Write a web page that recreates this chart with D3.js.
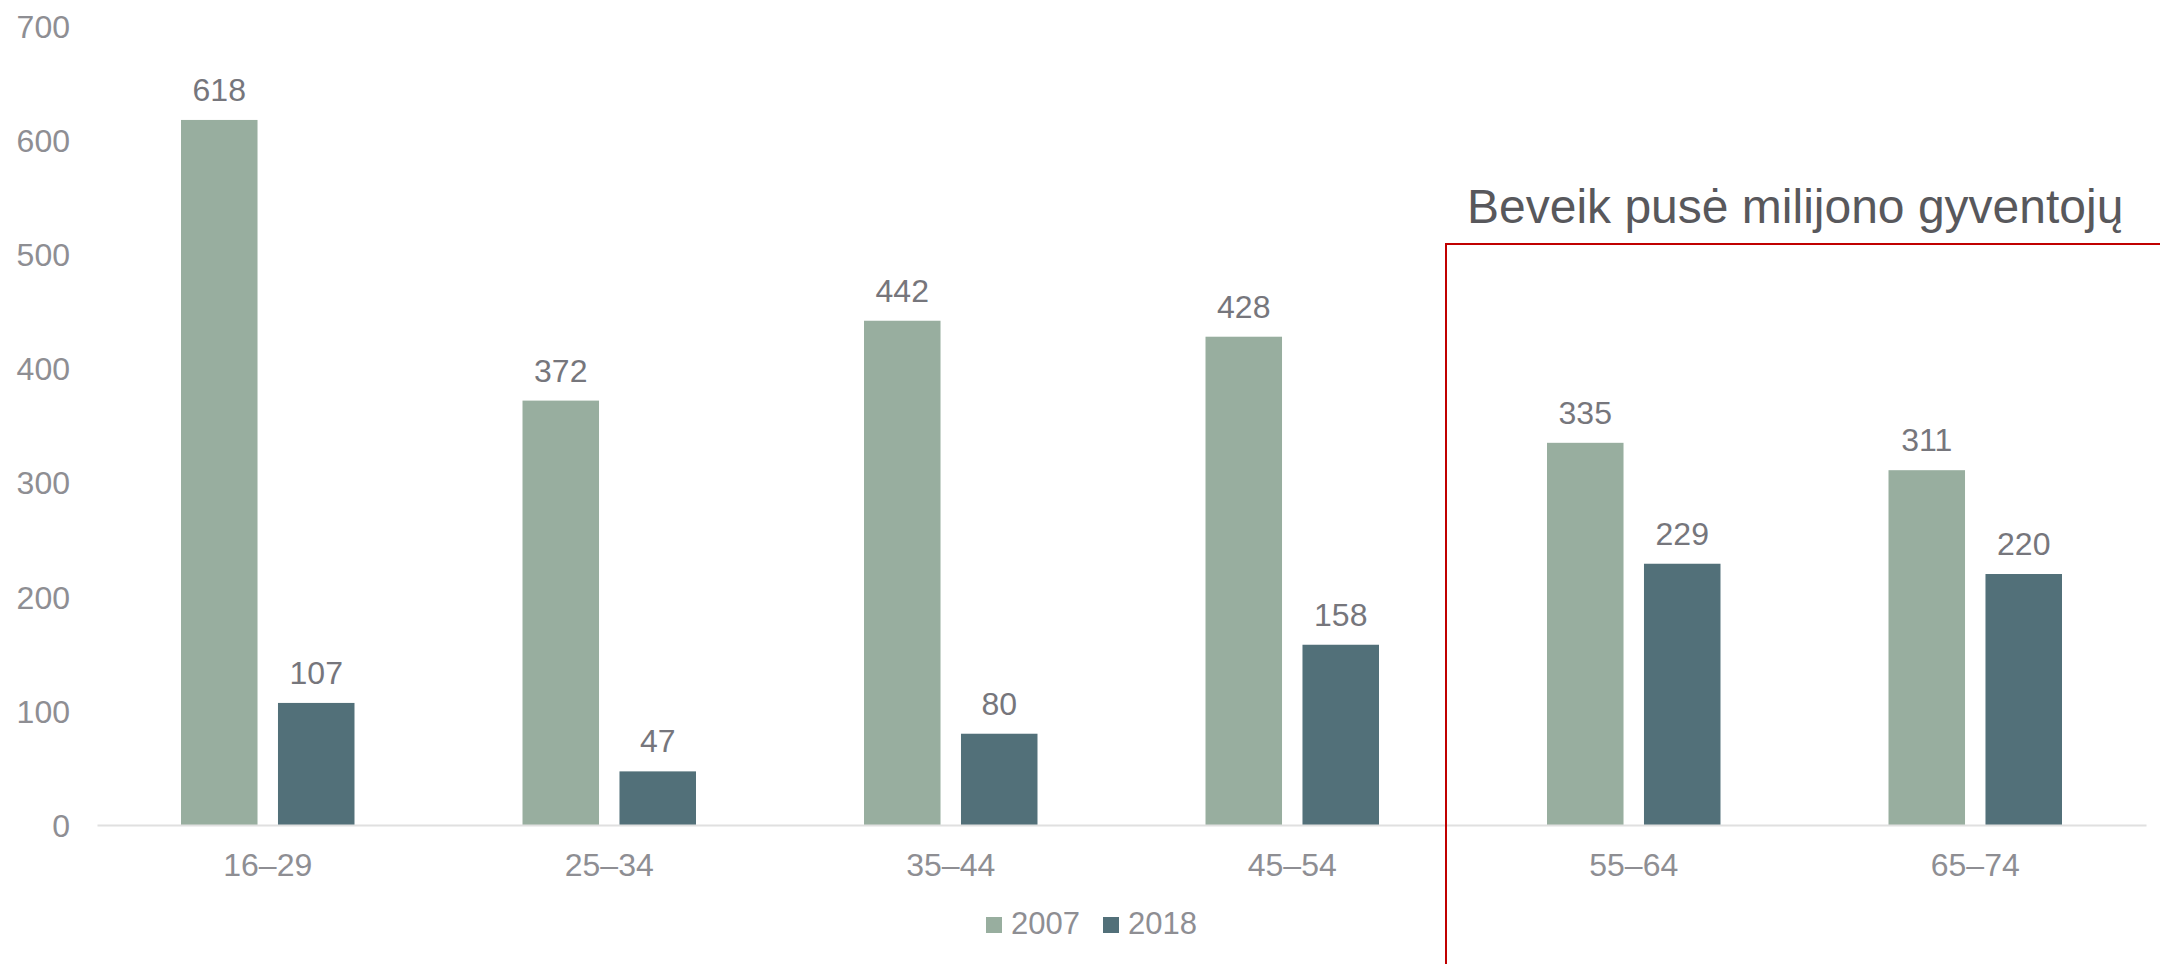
<!DOCTYPE html>
<html>
<head>
<meta charset="utf-8">
<script src="https://cdn.jsdelivr.net/npm/d3@7"></script>
<style>
  html, body { margin: 0; padding: 0; background: #ffffff; }
  svg { display: block; font-family: "Liberation Sans", Arial, sans-serif; }
</style>
</head>
<body>
<svg id="chart" width="2160" height="964"></svg>
<script>
const categories = ["16–29", "25–34", "35–44", "45–54", "55–64", "65–74"];
const seriesNames = ["2007", "2018"];
const values2007 = [618, 372, 442, 428, 335, 311];
const values2018 = [107, 47, 80, 158, 229, 220];
const yTicks = [0, 100, 200, 300, 400, 500, 600, 700];
const annotationText = "Beveik pusė milijono gyventojų";
const highlightFrom = "55–64";

const colors = { "2007": "#98ae9f", "2018": "#527079" };
const seriesValues = { "2007": values2007, "2018": values2018 };

const svg = d3.select("#chart");

const x0 = d3.scaleBand().domain(categories).range([97, 2146])
  .paddingInner(0.492).paddingOuter(0.246);
const x1 = d3.scaleBand().domain(seriesNames).range([0, x0.bandwidth()])
  .paddingInner(0.211).paddingOuter(0);
const y = d3.scaleLinear().domain([0, 700]).range([825, 26.4]);

// y axis labels
const yAxis = d3.axisLeft(y).tickValues(yTicks).tickSize(0).tickPadding(0);
const yg = svg.append("g").attr("transform", "translate(70,0)").call(yAxis);
yg.select(".domain").remove();
yg.selectAll("text")
  .attr("fill", "#8e8e93")
  .attr("font-size", 32)
  .attr("font-family", "'Liberation Sans', Arial, sans-serif")
  .attr("dy", "0.35em");

// bars
const groups = svg.append("g").selectAll("g")
  .data(categories)
  .join("g")
  .attr("transform", d => `translate(${x0(d)},0)`);

groups.selectAll("rect")
  .data((d, i) => seriesNames.map(s => ({ s, v: seriesValues[s][i] })))
  .join("rect")
  .attr("x", d => x1(d.s))
  .attr("width", x1.bandwidth())
  .attr("y", d => y(d.v))
  .attr("height", d => y(0) - y(d.v))
  .attr("fill", d => colors[d.s]);

groups.selectAll("text.val")
  .data((d, i) => seriesNames.map(s => ({ s, v: seriesValues[s][i] })))
  .join("text")
  .attr("class", "val")
  .attr("x", d => x1(d.s) + x1.bandwidth() / 2)
  .attr("y", d => y(d.v) - 19)
  .attr("text-anchor", "middle")
  .attr("font-size", 32)
  .attr("fill", "#76767c")
  .text(d => d.v);

// x axis
const xAxis = d3.axisBottom(x0).tickSize(0).tickPadding(0);
const xg = svg.append("g").attr("transform", `translate(0,${y(0)})`).call(xAxis);
xg.select(".domain").attr("stroke", "#e0e0e0").attr("stroke-width", 2);
xg.selectAll("text")
  .attr("fill", "#8e8e93")
  .attr("font-size", 32)
  .attr("font-family", "'Liberation Sans', Arial, sans-serif")
  .attr("dy", 0)
  .attr("y", 51);

// highlight box
const boxX = x0(highlightFrom) - x0.step() * x0.paddingInner() / 2 - 17;
svg.append("path")
  .attr("d", `M${boxX},${970} V244 H${2170}`)
  .attr("fill", "none")
  .attr("stroke", "#c00000")
  .attr("stroke-width", 2);

svg.append("text")
  .attr("x", boxX + 21)
  .attr("y", 223)
  .attr("font-size", 48)
  .attr("fill", "#58585c")
  .text(annotationText);

// legend
const legendItems = [
  { s: "2007", sx: 986, tx: 1011 },
  { s: "2018", sx: 1103, tx: 1128 }
];
const lg = svg.append("g");
lg.selectAll("rect").data(legendItems).join("rect")
  .attr("x", d => d.sx).attr("y", 917).attr("width", 16).attr("height", 16)
  .attr("fill", d => colors[d.s]);
lg.selectAll("text").data(legendItems).join("text")
  .attr("x", d => d.tx).attr("y", 934)
  .attr("font-size", 31)
  .attr("fill", "#8e8e93")
  .text(d => d.s);
</script>
</body>
</html>
